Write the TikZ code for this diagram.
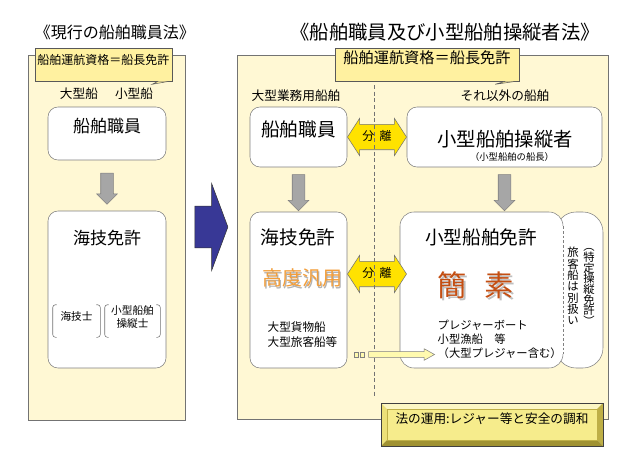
\documentclass[tikz,border=0pt]{standalone}
\usepackage{fontspec}
\setmainfont{Noto Sans CJK JP}
\usetikzlibrary{shapes.arrows,fit,calc}
\definecolor{panelbg}{RGB}{255,248,212}
\definecolor{memobg}{RGB}{255,241,160}
\definecolor{arrowblue}{RGB}{56,56,150}
\definecolor{splityel}{RGB}{255,226,0}
\definecolor{kodoorange}{RGB}{243,158,58}
\definecolor{kansorust}{RGB}{196,78,18}
\definecolor{lightyel}{RGB}{255,250,175}
\definecolor{bevmid}{RGB}{246,236,140}
\definecolor{bevhi}{RGB}{252,247,195}
\definecolor{bevside}{RGB}{236,224,120}
\definecolor{bevdark}{RGB}{190,175,70}
\definecolor{bevlow}{RGB}{160,146,50}

\begin{document}
\begin{tikzpicture}[x=0.75pt,y=-0.75pt,
  panel/.style={draw=black!55,fill=panelbg,inner sep=0pt},
  memo/.style={draw=black!65,fill=memobg,inner sep=0pt},
  box/.style={draw=black!50,fill=white,inner sep=0pt,rounded corners=7.5pt},
  grayarr/.style={single arrow,draw=black!50,fill=black!35,rotate=-90,inner xsep=0pt,inner ysep=4.5pt,single arrow head extend=3pt,minimum height=#1},
  bluearr/.style={single arrow,draw=black!80,fill=arrowblue,inner xsep=0pt,inner ysep=15.4pt,single arrow head extend=16.9pt,single arrow tip angle=139,minimum height=24.75pt},
  splitarr/.style={double arrow,draw=black!55,fill=splityel,font=\fontsize{9}{9}\selectfont,text height=6.8pt,text depth=1.7pt,inner xsep=1pt,inner ysep=5.1pt,double arrow head extend=4.5pt,double arrow tip angle=114,minimum height=44.25pt},
  smallarr/.style={single arrow,draw=black!50,fill=lightyel,inner xsep=0pt,inner ysep=1.9pt,single arrow head extend=2.25pt,single arrow tip angle=58,minimum height=49.5pt}]
\useasboundingbox (0,0) rectangle (636,468);

\node[font=\fontsize{12}{12}\selectfont] (T1) at (115,32) {《現行の船舶職員法》};
\node[font=\fontsize{14.5}{14.5}\selectfont] (T2) at (445,32) {《船舶職員及び小型船舶操縦者法》};

\node[panel,fit={(28,55) (185,420)}] (Lp) {};
\node[memo,fit={(35,48) (172,81)},font=\fontsize{9}{9}\selectfont] (Lm) {船舶運航資格＝船長免許};
\filldraw[memo] ($(Lm.south east)+(-14,0)$) -- ($(Lm.south east)+(-20,3)$) -- ($(Lm.south east)+(-3,0)$);
\node[font=\fontsize{9.5}{9.5}\selectfont] (Lb) at (79,94) {大型船};
\node[font=\fontsize{9.5}{9.5}\selectfont] (Ls) at (134,94) {小型船};
\node[box,fit={(48,107) (166,160)},font=\fontsize{12.75}{12.75}\selectfont] (L1) {船舶職員};
\node[box,fit={(48,211) (166,368)}] (L2) {};
\node[font=\fontsize{12.75}{12.75}\selectfont] (L2t) at (107,238) {海技免許};
\node[grayarr=23.25pt] (La) at ($(L1.south)!0.5!(L2.north)$) {};
\node[fit={(53,305) (100,337)},inner sep=0pt,font=\fontsize{8}{9.75}\selectfont] (K1) {海技士};
\node[fit={(105,305) (160,337)},inner sep=0pt,align=center,font=\fontsize{8}{9.75}\selectfont] (K2) {小型船舶\\操縦士};
\foreach \k in {K1,K2}
  \draw[black!55,rounded corners=2pt] ([xshift=3pt]\k.north west) -- (\k.north west) -- (\k.south west) -- ([xshift=3pt]\k.south west)
    ([xshift=-3pt]\k.north east) -- (\k.north east) -- (\k.south east) -- ([xshift=-3pt]\k.south east);

\node[bluearr] (Bl) at (207.5,227) {};

\node[panel,fit={(237,55) (608,419)}] (Rp) {};
\node[memo,fit={(335,48) (519,81)},font=\fontsize{11.4}{11.4}\selectfont] (Rm) {船舶運航資格＝船長免許};
\filldraw[memo] ($(Rm.south east)+(-14,0)$) -- ($(Rm.south east)+(-24,3)$) -- ($(Rm.south east)+(-3,0)$);
\node[font=\fontsize{9.5}{9.5}\selectfont] (Rl) at (296,96) {大型業務用船舶};
\node[font=\fontsize{9.5}{9.5}\selectfont] (Rr) at (505,96) {それ以外の船舶};

\node[box,fit={(250,107) (347,167)},font=\fontsize{14}{14}\selectfont] (A) {船舶職員};
\node[box,fit={(407,107) (602,167)}] (B) {};
\node[font=\fontsize{14.5}{14.5}\selectfont] (Bt) at (505,139) {小型船舶操縦者};
\node[font=\fontsize{7}{7}\selectfont] (Bs) at (512,157) {（小型船舶の船長）};
\node[box,fit={(250,212) (347,368)}] (C) {};
\node[box,rounded corners=15pt,fit={(556,212) (603,368)}] (E) {};
\node[box,rounded corners=10.5pt,fit={(400,212) (563,368)}] (D) {};
\draw[white,line width=1.2pt] ([yshift=-11pt]D.north east) -- ([yshift=11pt]D.south east);
\draw[black!50,dash pattern=on 2pt off 1.5pt] ([yshift=-11pt]D.north east) -- ([yshift=11pt]D.south east);

\node[grayarr=27pt] (Ra) at ($(A.south)!0.5!(C.north)$) {};
\node[grayarr=27pt] (Rb) at ($(B.south)!0.5!(B.south|-D.north)$) {};
\node[splitarr] (X1) at ($(A.east)!0.5!(B.west)$) {分\hspace{4pt}離};
\node[splitarr] (X2) at (377,274) {分\hspace{4pt}離};

\node[font=\fontsize{14}{14}\selectfont] (Ct) at (298,237) {海技免許};
\node[font=\fontsize{15}{15}\selectfont,text=black!30] (Gs) at (303.5,279.5) {高度汎用};
\node[font=\fontsize{15}{15}\selectfont,text=kodoorange] (G) at (302,278) {高度汎用};
\node[font=\fontsize{8.7}{11.25}\selectfont,align=left,anchor=west] (Cl) at (263,334.5) {大型貨物船\\大型旅客船等};

\node[font=\fontsize{14}{14}\selectfont] (Dt) at (481,237) {小型船舶免許};
\node[font=\fontsize{22}{22}\selectfont,text=black!25] (Ks) at (478,287) {簡\hspace{13.5pt}素};
\node[font=\fontsize{22}{22}\selectfont,text=kansorust] (K) at (476,285) {簡\hspace{13.5pt}素};
\node[font=\fontsize{8.5}{10.5}\selectfont,align=left,anchor=west] (Dl) at (433,339) {プレジャーボート\\小型漁船　等\\（大型プレジャー含む）};

\node[font=\fontsize{8.5}{8}\selectfont,align=center] (E1) at (589,287) {︵\\特\\定\\操\\縦\\免\\許\\︶};
\node[font=\fontsize{8.5}{8.5}\selectfont,align=center] (E2) at (573,286) {旅\\客\\船\\は\\別\\扱\\い};

\draw[black!55,dash pattern=on 3pt off 2pt] (374,85) -- (374,398);

\coordinate (s1) at (366,354.5);
\coordinate (s2) at (432,354.5);
\draw[black!50,fill=lightyel] (354,352) rectangle +(4,5) (360,352) rectangle +(4,5);
\node[smallarr] (Sa) at ($(s1)!0.5!(s2)$) {};

\fill[bevhi] (381,403) -- (603,403) -- (597,409) -- (387,409) -- cycle;
\fill[bevside] (381,403) -- (387,409) -- (387,440) -- (381,446) -- cycle;
\fill[bevdark] (603,403) -- (603,446) -- (597,440) -- (597,409) -- cycle;
\fill[bevlow] (381,446) -- (603,446) -- (597,440) -- (387,440) -- cycle;
\node[fill=bevmid,draw=bevdark,fit={(387,409) (597,440)},inner sep=0pt,font=\fontsize{9.5}{9.5}\selectfont] (N) {法の運用:レジャー等と安全の調和};
\draw[black!75] (381,403) rectangle (603,446);
\end{tikzpicture}
\end{document}
